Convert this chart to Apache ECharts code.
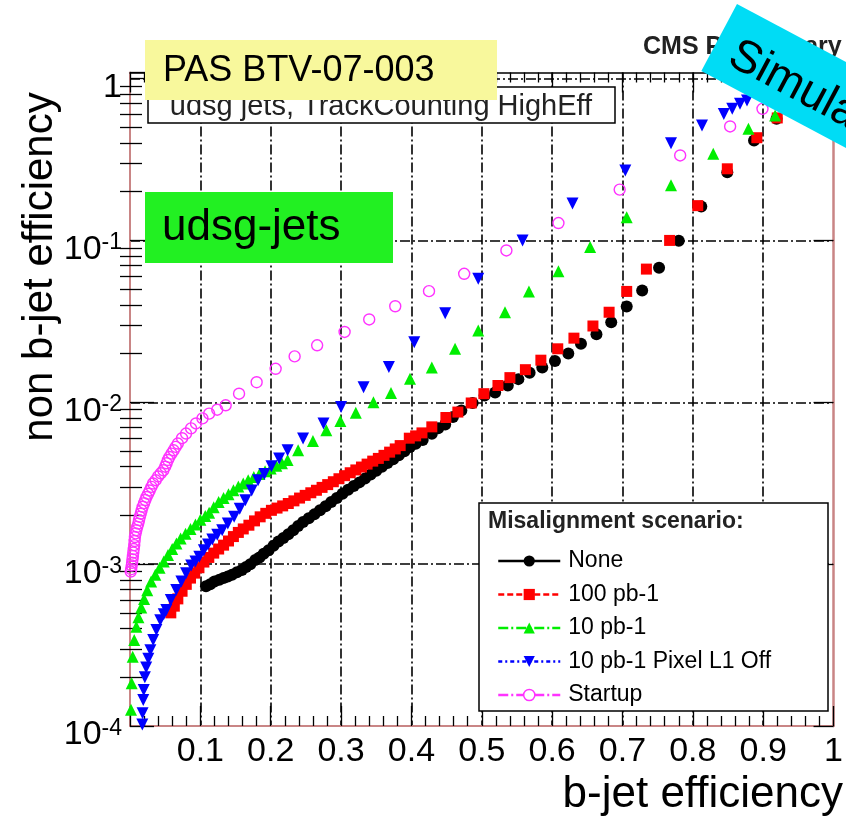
<!DOCTYPE html>
<html>
<head>
<meta charset="utf-8">
<script src="https://cdn.jsdelivr.net/npm/echarts@6.0.0/dist/echarts.min.js"></script>
<style>
  html, body { margin: 0; padding: 0; background: #fff; }
  #chart { width: 846px; height: 820px; }
</style>
</head>
<body>
<div id="chart"></div>
<script>
// Mistag rate (non b-jet efficiency) versus b-jet efficiency, TrackCounting HighEff tagger
const seriesNames = ['None', '100 pb-1', '10 pb-1', '10 pb-1 Pixel L1 Off', 'Startup'];
const xTickLabels = ['0.1', '0.2', '0.3', '0.4', '0.5', '0.6', '0.7', '0.8', '0.9', '1'];
const logMinorTicks = [
  2e-4, 3e-4, 4e-4, 5e-4, 6e-4, 7e-4, 8e-4, 9e-4,
  2e-3, 3e-3, 4e-3, 5e-3, 6e-3, 7e-3, 8e-3, 9e-3,
  2e-2, 3e-2, 4e-2, 5e-2, 6e-2, 7e-2, 8e-2, 9e-2,
  0.2, 0.3, 0.4, 0.5, 0.6, 0.7, 0.8, 0.9
];

// [b-jet efficiency, non b-jet efficiency]
const noneData = [
  [0.108,7.3e-4],[0.114,7.5e-4],[0.120,7.8e-4],[0.127,8.0e-4],[0.133,8.2e-4],[0.139,8.4e-4],
  [0.145,8.6e-4],[0.152,8.9e-4],[0.159,9.2e-4],[0.165,9.6e-4],[0.171,1.0e-3],[0.178,1.06e-3],
  [0.184,1.1e-3],[0.190,1.16e-3],[0.197,1.22e-3],[0.204,1.3e-3],[0.211,1.38e-3],[0.218,1.45e-3],
  [0.225,1.53e-3],[0.232,1.62e-3],[0.239,1.72e-3],[0.246,1.82e-3],[0.254,1.92e-3],[0.262,2.03e-3],
  [0.270,2.15e-3],[0.278,2.28e-3],[0.286,2.42e-3],[0.294,2.56e-3],[0.302,2.72e-3],[0.310,2.88e-3],
  [0.318,3.04e-3],[0.326,3.2e-3],[0.334,3.38e-3],[0.342,3.58e-3],[0.350,3.78e-3],[0.358,4.0e-3],
  [0.366,4.22e-3],[0.374,4.45e-3],[0.382,4.7e-3],[0.390,4.98e-3],[0.398,5.3e-3],[0.406,5.55e-3],
  [0.416,5.85e-3],[0.429,6.4e-3],[0.438,6.9e-3],[0.448,7.3e-3],[0.459,8.1e-3],[0.471,8.9e-3],
  [0.487,9.9e-3],[0.504,1.1e-2],[0.519,1.15e-2],[0.537,1.27e-2],[0.552,1.39e-2],[0.568,1.52e-2],
  [0.586,1.64e-2],[0.604,1.8e-2],[0.623,2.0e-2],[0.641,2.3e-2],[0.663,2.63e-2],[0.684,3.12e-2],
  [0.706,3.9e-2],[0.728,4.9e-2],[0.752,6.77e-2],[0.780,9.95e-2],[0.812,0.162],[0.849,0.264],
  [0.887,0.414],[0.919,0.564]
];
const pb100Data = [
  [0.058,5.0e-4],[0.063,5.5e-4],[0.068,6.1e-4],[0.074,6.8e-4],[0.080,7.5e-4],[0.086,8.2e-4],
  [0.092,8.8e-4],[0.098,9.5e-4],[0.105,1.03e-3],[0.112,1.1e-3],[0.119,1.17e-3],[0.126,1.24e-3],
  [0.133,1.31e-3],[0.140,1.39e-3],[0.147,1.48e-3],[0.154,1.57e-3],[0.161,1.65e-3],[0.169,1.74e-3],
  [0.177,1.85e-3],[0.185,1.96e-3],[0.193,2.06e-3],[0.201,2.15e-3],[0.209,2.22e-3],[0.217,2.29e-3],
  [0.225,2.37e-3],[0.233,2.46e-3],[0.241,2.56e-3],[0.249,2.66e-3],[0.257,2.76e-3],[0.265,2.86e-3],
  [0.273,2.98e-3],[0.281,3.1e-3],[0.289,3.23e-3],[0.297,3.37e-3],[0.305,3.52e-3],[0.313,3.67e-3],
  [0.321,3.82e-3],[0.329,3.98e-3],[0.337,4.15e-3],[0.345,4.33e-3],[0.353,4.5e-3],[0.361,4.7e-3],
  [0.369,4.92e-3],[0.377,5.15e-3],[0.384,5.4e-3],[0.397,6.0e-3],[0.406,6.2e-3],[0.415,6.47e-3],
  [0.429,7.05e-3],[0.449,8.05e-3],[0.466,8.7e-3],[0.485,9.9e-3],[0.503,1.13e-2],[0.523,1.27e-2],
  [0.540,1.42e-2],[0.562,1.59e-2],[0.584,1.82e-2],[0.608,2.14e-2],[0.631,2.49e-2],[0.658,2.96e-2],
  [0.681,3.6e-2],[0.706,4.84e-2],[0.734,6.65e-2],[0.767,0.100],[0.807,0.164],[0.849,0.277],
  [0.891,0.431],[0.920,0.571]
];
const pb10Data = [
  [0.0014,1.26e-4],[0.0024,1.84e-4],[0.0038,2.68e-4],[0.006,3.4e-4],[0.009,4.1e-4],[0.012,4.7e-4],
  [0.016,5.4e-4],[0.020,6.1e-4],[0.0245,6.9e-4],[0.030,7.8e-4],[0.036,8.6e-4],[0.042,9.5e-4],
  [0.048,1.04e-3],[0.054,1.14e-3],[0.060,1.24e-3],[0.066,1.34e-3],[0.072,1.44e-3],[0.079,1.54e-3],
  [0.086,1.65e-3],[0.093,1.76e-3],[0.100,1.88e-3],[0.107,1.98e-3],[0.1125,2.08e-3],[0.119,2.25e-3],
  [0.126,2.42e-3],[0.133,2.56e-3],[0.140,2.7e-3],[0.147,2.86e-3],[0.154,3.02e-3],[0.161,3.15e-3],
  [0.168,3.3e-3],[0.176,3.45e-3],[0.184,3.6e-3],[0.192,3.75e-3],[0.200,3.9e-3],[0.208,4.05e-3],
  [0.216,4.2e-3],[0.224,4.4e-3],[0.239,5.06e-3],[0.260,5.77e-3],[0.279,6.71e-3],[0.299,7.67e-3],
  [0.321,8.63e-3],[0.346,1.0e-2],[0.371,1.14e-2],[0.398,1.4e-2],[0.429,1.64e-2],[0.462,2.14e-2],
  [0.495,2.78e-2],[0.533,3.6e-2],[0.567,4.84e-2],[0.609,6.46e-2],[0.654,9.1e-2],[0.706,0.139],
  [0.769,0.219],[0.829,0.343],[0.879,0.49],[0.917,0.591]
];
const pixelOffData = [
  [0.0175,1.02e-4],[0.0179,1.2e-4],[0.0188,1.45e-4],[0.0195,1.67e-4],[0.0211,2.0e-4],[0.023,2.3e-4],
  [0.026,2.6e-4],[0.029,2.94e-4],[0.033,3.4e-4],[0.0375,3.92e-4],[0.043,4.5e-4],[0.048,4.9e-4],
  [0.0516,5.2e-4],[0.058,6.0e-4],[0.0657,6.92e-4],[0.073,7.8e-4],[0.0797,8.77e-4],[0.087,9.8e-4],
  [0.093,1.04e-3],[0.0985,1.11e-3],[0.105,1.22e-3],[0.111,1.32e-3],[0.117,1.42e-3],[0.124,1.52e-3],
  [0.131,1.62e-3],[0.139,1.78e-3],[0.148,1.96e-3],[0.156,2.2e-3],[0.164,2.48e-3],[0.173,2.85e-3],
  [0.182,3.3e-3],[0.191,3.6e-3],[0.201,4.03e-3],[0.212,4.5e-3],[0.224,5.06e-3],[0.246,5.97e-3],
  [0.275,7.4e-3],[0.300,9.35e-3],[0.332,1.24e-2],[0.368,1.65e-2],[0.404,2.35e-2],[0.448,3.55e-2],
  [0.495,5.8e-2],[0.558,0.1],[0.629,0.169],[0.704,0.27],[0.769,0.399],[0.813,0.513],
  [0.844,0.605],[0.856,0.65],[0.867,0.70],[0.877,0.731]
];
const startupData = [
  [0.0010,9.0e-4],[0.0017,9.3e-4],[0.0024,9.8e-4],[0.0030,1.02e-3],[0.0035,1.07e-3],[0.0041,1.12e-3],
  [0.0047,1.18e-3],[0.0053,1.24e-3],[0.006,1.31e-3],[0.0065,1.39e-3],[0.007,1.47e-3],[0.008,1.55e-3],
  [0.009,1.62e-3],[0.0103,1.70e-3],[0.0117,1.78e-3],[0.0128,1.87e-3],[0.014,1.96e-3],[0.0152,2.05e-3],
  [0.0165,2.15e-3],[0.018,2.26e-3],[0.020,2.38e-3],[0.0218,2.49e-3],[0.0235,2.6e-3],[0.0258,2.72e-3],
  [0.028,2.85e-3],[0.0305,3.0e-3],[0.0328,3.15e-3],[0.0365,3.3e-3],[0.040,3.48e-3],[0.0437,3.64e-3],
  [0.0474,3.8e-3],[0.050,4.0e-3],[0.052,4.2e-3],[0.054,4.4e-3],[0.056,4.59e-3],[0.059,4.82e-3],
  [0.062,5.05e-3],[0.065,5.3e-3],[0.068,5.56e-3],[0.074,6.0e-3],[0.0797,6.41e-3],[0.0868,6.9e-3],
  [0.0938,7.4e-3],[0.103,7.95e-3],[0.1125,8.51e-3],[0.124,9.0e-3],[0.136,9.58e-3],[0.155,1.13e-2],
  [0.180,1.33e-2],[0.207,1.61e-2],[0.234,1.92e-2],[0.266,2.25e-2],[0.305,2.72e-2],[0.340,3.25e-2],
  [0.377,3.92e-2],[0.425,4.86e-2],[0.475,6.22e-2],[0.535,8.67e-2],[0.609,0.128],[0.696,0.206],
  [0.782,0.335],[0.853,0.506],[0.899,0.65]
];

const FONT = "'Liberation Sans', Arial, Helvetica, sans-serif";
const DASHDOT = [10, 3, 2, 3];

const seriesStyle = [
  { data: noneData,     color: '#000000', symbol: 'circle',   size: 12, rotate: 0,   line: 'solid' },
  { data: pb100Data,    color: '#ff0000', symbol: 'rect',     size: 11, rotate: 0,   line: [6, 3] },
  { data: pb10Data,     color: '#00ee00', symbol: 'triangle', size: 12, rotate: 0,   line: DASHDOT },
  { data: pixelOffData, color: '#0000ff', symbol: 'triangle', size: 12, rotate: 180, line: [4, 3, 2, 3] },
  { data: startupData,  color: '#ff33ff', symbol: 'circle',   size: 11, rotate: 0,   line: DASHDOT, open: true }
];

function xLabel(v) {
  if (v < 0.05) return '';
  const i = Math.round(v * 10) - 1;
  return xTickLabels[i] || '';
}
function yLabel(v) {
  const lg = Math.log10(v);
  const e = Math.round(lg);
  if (Math.abs(lg - e) > 1e-6) return '';
  if (e === 0) return '{b|1}';
  return '{b|10}{s|' + e + '}';
}

const chart = echarts.init(document.getElementById('chart'), null, { renderer: 'canvas' });

const tickLine = { color: '#000', width: 1.3 };
const gridLine = { color: '#000', width: 1.6, type: DASHDOT };
const frameColor = '#c98585';

const option = {
  animation: false,
  backgroundColor: '#fff',
  grid: { left: 130, right: 5, top: 72.5, bottom: 94 },
  xAxis: [
    {
      type: 'value', position: 'bottom', min: 0, max: 1, interval: 0.1,
      axisLine: { show: true, onZero: false, lineStyle: { color: frameColor, width: 2 } },
      axisTick: { show: true, inside: true, length: 20, lineStyle: tickLine },
      minorTick: { show: true, splitNumber: 5, length: 10, lineStyle: tickLine },
      axisLabel: { margin: 9, fontSize: 34, fontFamily: FONT, color: '#000', formatter: xLabel },
      splitLine: { show: true, showMinLine: false, showMaxLine: false, lineStyle: gridLine },
      minorSplitLine: { show: false }
    },
    {
      type: 'value', position: 'top', min: 0, max: 1, interval: 0.1,
      axisLine: { show: true, onZero: false, lineStyle: { color: '#000', width: 1.5 } },
      axisTick: { show: true, inside: true, length: 20, lineStyle: tickLine },
      minorTick: { show: true, splitNumber: 5, length: 10, lineStyle: tickLine },
      axisLabel: { show: false },
      splitLine: { show: false }
    }
  ],
  yAxis: [
    {
      type: 'log', logBase: 10, position: 'left', min: 1e-4, max: 1.09,
      axisLine: { show: true, onZero: false, lineStyle: { color: frameColor, width: 2 } },
      axisTick: { show: true, inside: true, length: 24, lineStyle: tickLine },
      axisLabel: {
        margin: 8, padding: [18, 0, 0, 0], formatter: yLabel,
        rich: {
          b: { fontSize: 34, fontFamily: FONT, color: '#000', lineHeight: 36 },
          s: { fontSize: 23, fontFamily: FONT, color: '#000', verticalAlign: 'top', lineHeight: 14 }
        }
      },
      splitLine: { show: true, showMinLine: false, showMaxLine: false, lineStyle: gridLine }
    },
    {
      type: 'log', logBase: 10, position: 'left', min: 1e-4, max: 1.09,
      axisLine: { show: false },
      axisTick: { show: true, inside: true, length: 12, lineStyle: tickLine, customValues: logMinorTicks },
      axisLabel: { show: false },
      splitLine: { show: false }
    },
    {
      type: 'log', logBase: 10, position: 'right', min: 1e-4, max: 1.09,
      axisLine: { show: true, onZero: false, lineStyle: { color: frameColor, width: 2.5 } },
      axisTick: { show: true, inside: true, length: 20, lineStyle: tickLine },
      axisLabel: { show: false },
      splitLine: { show: false }
    },
    {
      type: 'log', logBase: 10, position: 'right', min: 1e-4, max: 1.09,
      axisLine: { show: false },
      axisTick: { show: true, inside: true, length: 10, lineStyle: tickLine, customValues: logMinorTicks },
      axisLabel: { show: false },
      splitLine: { show: false }
    }
  ],
  legend: {
    orient: 'vertical', left: 492, top: 544, z: 20,
    itemWidth: 62, itemHeight: 14, itemGap: 9.5,
    selectedMode: false,
    textStyle: { fontSize: 23, fontFamily: FONT, color: '#000', lineHeight: 24, padding: [0, 0, 0, 3] },
    data: seriesNames.map((name, i) => {
      const s = seriesStyle[i];
      return {
        name,
        itemStyle: s.open
          ? { color: '#fff', borderColor: s.color, borderWidth: 1.5 }
          : { color: s.color, borderWidth: 0 },
        lineStyle: { color: s.color, width: 2.5, type: s.line, opacity: 1 }
      };
    })
  },
  series: seriesNames.map((name, i) => {
    const s = seriesStyle[i];
    return {
      name, type: 'line', data: s.data,
      xAxisIndex: 0, yAxisIndex: 0,
      symbol: s.symbol, symbolSize: s.size, symbolRotate: s.rotate,
      showSymbol: true, showAllSymbol: true,
      lineStyle: { width: 0, opacity: 0, color: s.color, type: s.line },
      itemStyle: s.open
        ? { color: 'rgba(255,255,255,0)', borderColor: s.color, borderWidth: 1.4 }
        : { color: s.color, borderWidth: 0 },
      emphasis: { disabled: true },
      silent: true,
      z: 2 + i
    };
  }),
  graphic: [
    // legend frame and heading
    { type: 'rect', z: 15, shape: { x: 479, y: 503, width: 349, height: 208 },
      style: { fill: '#fff', stroke: '#000', lineWidth: 1.5 } },
    { type: 'text', z: 21, x: 488, y: 522,
      style: { text: 'Misalignment scenario:', fontSize: 23, fontWeight: 'bold', fontFamily: FONT,
               fill: '#222', verticalAlign: 'middle' } },
    // tagger caption box
    { type: 'rect', z: 15, shape: { x: 148, y: 87, width: 467, height: 36 },
      style: { fill: '#fff', stroke: '#000', lineWidth: 1.5 } },
    { type: 'text', z: 16, x: 381, y: 107,
      style: { text: 'udsg jets, TrackCounting HighEff', fontSize: 29, fontFamily: FONT,
               fill: '#222', align: 'center', verticalAlign: 'middle' } },
    // document tag
    { type: 'rect', z: 17, shape: { x: 145, y: 40, width: 352, height: 60 },
      style: { fill: '#f8f89c' } },
    { type: 'text', z: 18, x: 163, y: 71,
      style: { text: 'PAS BTV-07-003', fontSize: 36, fontFamily: FONT, fill: '#000', verticalAlign: 'middle' } },
    // flavour tag
    { type: 'rect', z: 17, shape: { x: 145, y: 192, width: 248, height: 71 },
      style: { fill: '#22f022' } },
    { type: 'text', z: 18, x: 162, y: 228,
      style: { text: 'udsg-jets', fontSize: 44, fontFamily: FONT, fill: '#000', verticalAlign: 'middle' } },
    // experiment label
    { type: 'text', z: 18, x: 643, y: 47,
      style: { text: 'CMS Preliminary', fontSize: 25, fontWeight: 'bold', fontFamily: FONT,
               fill: '#222', verticalAlign: 'middle' } },
    // simulation banner
    { type: 'group', x: 737, y: 4, rotation: -28 * Math.PI / 180, z: 30,
      children: [
        { type: 'rect', z: 30, shape: { x: 0, y: 0, width: 340, height: 76 }, style: { fill: '#00dcf5' } },
        { type: 'text', z: 31, x: 18, y: 45,
          style: { text: 'Simulation', fontSize: 46, fontFamily: FONT, fill: '#000', verticalAlign: 'middle' } }
      ] },
    // axis titles
    { type: 'text', z: 18, x: 40, y: 267, rotation: Math.PI / 2,
      style: { text: 'non b-jet efficiency', fontSize: 42, fontFamily: FONT, fill: '#000',
               align: 'center', verticalAlign: 'middle' } },
    { type: 'text', z: 18, x: 843, y: 795,
      style: { text: 'b-jet efficiency', fontSize: 44, fontFamily: FONT, fill: '#000',
               align: 'right', verticalAlign: 'middle' } }
  ]
};

chart.setOption(option);
</script>
</body>
</html>
